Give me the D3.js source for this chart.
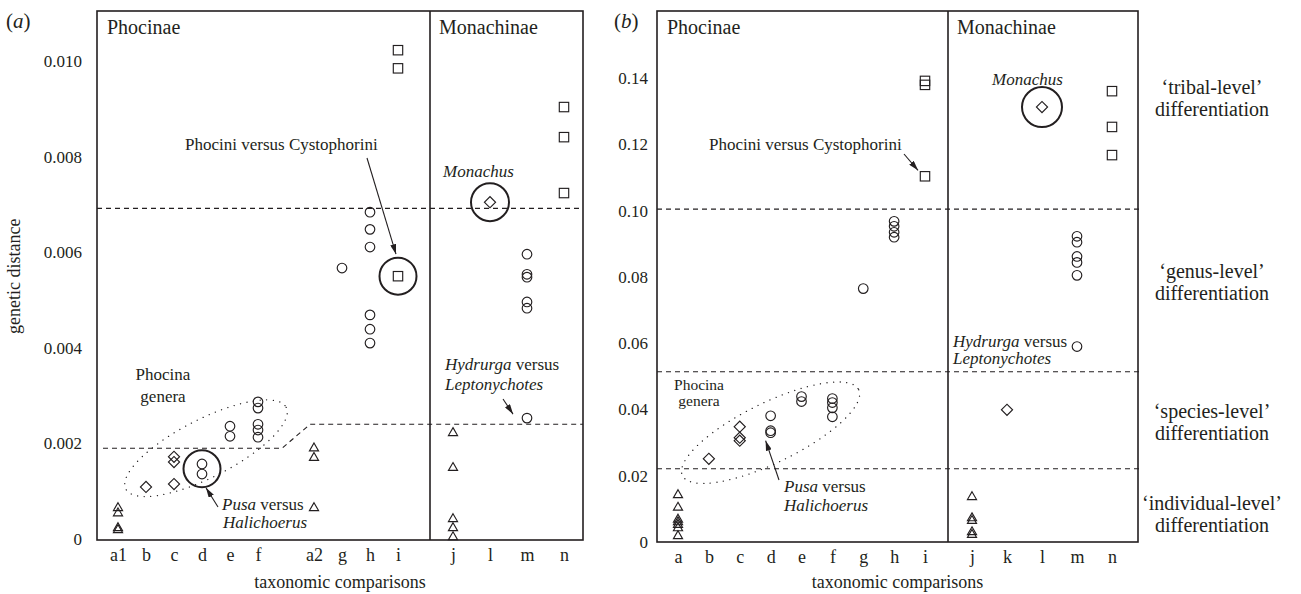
<!DOCTYPE html>
<html>
<head>
<meta charset="utf-8">
<script src="https://cdn.jsdelivr.net/npm/d3@7"></script>
<style>
  body { margin: 0; background: #fff; }
  svg, svg text { font-family: "Liberation Serif", "DejaVu Serif", "Times New Roman", serif; }
</style>
</head>
<body>
<svg width="1301" height="594"></svg>
<script>
// ---- panel (a) data ----
var catsAPhoc = ["a1", "b", "c", "d", "e", "f", "", "a2", "g", "h", "i"];
var catsAMon = ["j", "l", "m", "n"];
var ticksA = [0, 0.002, 0.004, 0.006, 0.008, 0.010];

var trianglesA = [["a1", 0.00065], ["a1", 0.00054], ["a1", 0.00023], ["a1", 0.00019],
  ["a2", 0.0019], ["a2", 0.0017], ["a2", 0.00065],
  ["j", 0.00222], ["j", 0.00149], ["j", 0.00042], ["j", 0.00023], ["j", 0.00004]];
var diamondsA = [["b", 0.00109], ["c", 0.00172], ["c", 0.00161], ["c", 0.00115], ["l", 0.00705]];
var circlesA = [["d", 0.00157], ["d", 0.00136], ["e", 0.00236], ["e", 0.00215],
  ["f", 0.00287], ["f", 0.00274], ["f", 0.0024], ["f", 0.00228], ["f", 0.00213],
  ["g", 0.00567], ["h", 0.00684], ["h", 0.00648], ["h", 0.00611], ["h", 0.00469], ["h", 0.00439], ["h", 0.0041],
  ["m", 0.00596], ["m", 0.00554], ["m", 0.00548], ["m", 0.00496], ["m", 0.00483], ["m", 0.00253]];
var squaresA = [["i", 0.01023], ["i", 0.00985], ["i", 0.0055], ["n", 0.00904], ["n", 0.00841], ["n", 0.00724]];
var cutoffA = 0.00692;          // upper dashed line
var stepA = [0.0019, 0.0024];   // lower stepped dashed line (left, right of a2)

// ---- panel (b) data ----
var catsBPhoc = ["a", "b", "c", "d", "e", "f", "g", "h", "i"];
var catsBMon = ["j", "k", "l", "m", "n"];
var ticksB = [0, 0.02, 0.04, 0.06, 0.08, 0.10, 0.12, 0.14];

var trianglesB = [["a", 0.0142], ["a", 0.0104], ["a", 0.0068], ["a", 0.006], ["a", 0.0052], ["a", 0.0042], ["a", 0.0018],
  ["j", 0.0136], ["j", 0.0072], ["j", 0.0064], ["j", 0.003], ["j", 0.0022]];
var diamondsB = [["b", 0.0251], ["c", 0.0348], ["c", 0.0315], ["c", 0.0306], ["k", 0.0399], ["l", 0.1313]];
var circlesB = [["d", 0.0381], ["d", 0.0336], ["d", 0.033], ["e", 0.0439], ["e", 0.0424],
  ["f", 0.0433], ["f", 0.0421], ["f", 0.0405], ["f", 0.0378], ["g", 0.0765],
  ["h", 0.0968], ["h", 0.0953], ["h", 0.0935], ["h", 0.092],
  ["m", 0.0923], ["m", 0.0905], ["m", 0.0862], ["m", 0.0844], ["m", 0.0805], ["m", 0.059]];
var squaresB = [["i", 0.1392], ["i", 0.138], ["i", 0.1104], ["n", 0.1361], ["n", 0.1253], ["n", 0.1168]];
var cutoffsB = [0.1005, 0.0514, 0.0221];
var levelLabels = [["\u2018tribal-level\u2019", 0.134], ["\u2018genus-level\u2019", 0.0785],
  ["\u2018species-level\u2019", 0.0362], ["\u2018individual-level\u2019", 0.0085]];

var serif = "'Liberation Serif', 'DejaVu Serif', 'Times New Roman', serif";
var svg = d3.select("svg").attr("font-family", serif);
var ink = "#231f20";

svg.append("defs").append("marker")
    .attr("id", "arrow")
    .attr("viewBox", "0 0 10 6")
    .attr("refX", 10).attr("refY", 3)
    .attr("markerWidth", 10).attr("markerHeight", 6)
    .attr("markerUnits", "userSpaceOnUse")
    .attr("orient", "auto")
  .append("path")
    .attr("d", "M0,0L10,3L0,6Z")
    .attr("fill", ink);

function drawPanel(p) {
    var g = svg.append("g").attr("fill", ink);
    var xOf = function(c) { return p.xPhoc.domain().indexOf(c) >= 0 ? p.xPhoc(c) : p.xMon(c); };
    var y = p.y;

    // y axis ticks (box edge drawn separately)
    var yAxis = g.append("g")
        .attr("transform", "translate(" + p.left + ",0)")
        .call(d3.axisLeft(y).tickValues(p.ticks).tickSize(0).tickPadding(p.tickPad)
            .tickFormat(d => d === 0 ? "0" : p.fmt(d)));
    yAxis.attr("font-family", serif).attr("font-size", 17);
    yAxis.select(".domain").remove();
    yAxis.selectAll("text").attr("fill", ink);

    [p.xPhoc, p.xMon].forEach(function(sc) {
        var xa = g.append("g")
            .attr("transform", "translate(0," + p.bottom + ")")
            .call(d3.axisBottom(sc).tickValues(sc.domain().filter(d => d)).tickSize(0).tickPadding(8));
        xa.attr("font-family", serif).attr("font-size", 18);
        xa.select(".domain").remove();
        xa.selectAll("text").attr("fill", ink);
    });

    // frame + divider
    g.append("rect")
        .attr("x", p.left).attr("y", p.top)
        .attr("width", p.right - p.left).attr("height", p.bottom - p.top)
        .attr("fill", "none").attr("stroke", ink).attr("stroke-width", 1.6);
    g.append("line")
        .attr("x1", p.divider).attr("x2", p.divider)
        .attr("y1", p.top).attr("y2", p.bottom)
        .attr("stroke", ink).attr("stroke-width", 1.6);

    // dashed lines
    g.append("g").selectAll("path")
        .data(p.dashed)
        .join("path")
        .attr("d", d => d3.line()(d))
        .attr("fill", "none").attr("stroke", ink).attr("stroke-width", 1.1)
        .attr("stroke-dasharray", "5,4");

    // dotted ellipse
    g.append("ellipse")
        .attr("transform", "translate(" + p.ell.cx + "," + p.ell.cy + ") rotate(" + p.ell.rot + ")")
        .attr("rx", p.ell.rx).attr("ry", p.ell.ry)
        .attr("fill", "none").attr("stroke", ink).attr("stroke-width", 1.3)
        .attr("stroke-dasharray", "0.1,6.5").attr("stroke-linecap", "round");

    // big highlight circles
    g.append("g").selectAll("circle")
        .data(p.rings)
        .join("circle")
        .attr("cx", d => xOf(d[0]) + (d[2] || 0)).attr("cy", d => y(d[1]))
        .attr("r", d => d[3] || 18.5)
        .attr("fill", "none").attr("stroke", ink).attr("stroke-width", 2);

    var markStyle = function(s) {
        s.attr("fill", "none").attr("stroke", ink).attr("stroke-width", 1.15);
    };
    g.append("g").selectAll("circle")
        .data(p.circles).join("circle")
        .attr("cx", d => xOf(d[0])).attr("cy", d => y(d[1])).attr("r", 4.8)
        .call(markStyle);
    g.append("g").selectAll("rect")
        .data(p.squares).join("rect")
        .attr("x", d => xOf(d[0]) - 4.7).attr("y", d => y(d[1]) - 4.7)
        .attr("width", 9.4).attr("height", 9.4)
        .call(markStyle);
    g.append("g").selectAll("path")
        .data(p.diamonds).join("path")
        .attr("d", d3.symbol(d3.symbolSquare, 62))
        .attr("transform", d => "translate(" + xOf(d[0]) + "," + y(d[1]) + ") rotate(45)")
        .call(markStyle);
    g.append("g").selectAll("path")
        .data(p.triangles).join("path")
        .attr("d", d3.symbol(d3.symbolTriangle, 36))
        .attr("transform", d => "translate(" + xOf(d[0]) + "," + y(d[1]) + ")")
        .call(markStyle);

    // subfamily titles
    g.append("text").attr("x", p.left + 10).attr("y", 34).attr("font-size", 20).text("Phocinae");
    g.append("text").attr("x", p.divider + 9).attr("y", 34).attr("font-size", 20).text("Monachinae");
    g.append("text").attr("x", p.labelX).attr("y", 28).attr("font-size", 21)
        .html("(<tspan font-style='italic'>" + p.letter + "</tspan>)");

    // annotations
    p.notes.forEach(function(n) {
        var t = g.append("text").attr("x", n.x).attr("y", n.y)
            .attr("font-size", n.size || 17).attr("text-anchor", n.anchor || "start");
        n.parts.forEach(function(pt) {
            t.append("tspan").attr("font-style", pt[1] ? "italic" : null).text(pt[0]);
        });
    });
    g.append("g").selectAll("line")
        .data(p.arrows).join("line")
        .attr("x1", d => d[0]).attr("y1", d => d[1]).attr("x2", d => d[2]).attr("y2", d => d[3])
        .attr("stroke", ink).attr("stroke-width", 1.1).attr("marker-end", "url(#arrow)");

    g.append("text")
        .attr("x", (p.left + p.right) / 2).attr("y", 588)
        .attr("text-anchor", "middle").attr("font-size", 18)
        .text("taxonomic comparisons");

    return { x: xOf, y: y };
}

// ---- panel (a) ----
var xAPhoc = d3.scalePoint().domain(catsAPhoc).range([118, 398]);
var xAMon = d3.scalePoint().domain(catsAMon).range([453, 564]);
var yA = d3.scaleLinear().domain([0, 0.01105]).range([539, 11]);
var fA = xAPhoc("f"), a2 = xAPhoc("a2");

drawPanel({
    left: 97, right: 583, divider: 430, top: 11, bottom: 540,
    xPhoc: xAPhoc, xMon: xAMon, y: yA,
    ticks: ticksA, fmt: d3.format(".3f"), tickPad: 15,
    letter: "a", labelX: 6,
    circles: circlesA, squares: squaresA, diamonds: diamondsA, triangles: trianglesA,
    dashed: [
        [[97, yA(cutoffA)], [583, yA(cutoffA)]],
        [[103, yA(stepA[0])], [fA + (a2 - fA) * 0.43, yA(stepA[0])], [a2 - 4, yA(stepA[1])], [583, yA(stepA[1])]]
    ],
    ell: { cx: xAPhoc("d") + 4, cy: yA(0.0019), rx: 90, ry: 29, rot: -27 },
    rings: [["d", 0.00147, 0, 18.5], ["i", 0.0055, 0, 18.5], ["l", 0.00705, 0, 19]],
    notes: [
        { x: 185, y: 150, parts: [["Phocini versus Cystophorini"]] },
        { x: 443, y: 177, parts: [["Monachus", true]] },
        { x: 163, y: 380, anchor: "middle", parts: [["Phocina"]] },
        { x: 163, y: 402, anchor: "middle", parts: [["genera"]] },
        { x: 222, y: 510, parts: [["Pusa", true], [" versus"]] },
        { x: 223, y: 528, parts: [["Halichoerus", true]] },
        { x: 445, y: 370, parts: [["Hydrurga", true], [" versus"]] },
        { x: 445, y: 390, parts: [["Leptonychotes", true]] }
    ],
    arrows: [
        [367, 158, xAPhoc("i") - 2, yA(0.0055) - 22],
        [218, 507, xAPhoc("d") + 4, yA(0.00147) + 19],
        [503, 399, xAMon("m") - 14, yA(0.00253) - 4]
    ]
});

svg.append("text")
    .attr("transform", "translate(20," + yA(0.0055) + ") rotate(-90)")
    .attr("text-anchor", "middle").attr("font-size", 18).attr("fill", ink)
    .text("genetic distance");

// ---- panel (b) ----
var xBPhoc = d3.scalePoint().domain(catsBPhoc).range([678, 925]);
var xBMon = d3.scalePoint().domain(catsBMon).range([972, 1112]);
var yB = d3.scaleLinear().domain([0, 0.1603]).range([542, 11]);

drawPanel({
    left: 657, right: 1138, divider: 948, top: 11, bottom: 542,
    xPhoc: xBPhoc, xMon: xBMon, y: yB,
    ticks: ticksB, fmt: d3.format(".2f"), tickPad: 9,
    letter: "b", labelX: 614,
    circles: circlesB, squares: squaresB, diamonds: diamondsB, triangles: trianglesB,
    dashed: cutoffsB.map(v => [[657, yB(v)], [1140, yB(v)]]),
    ell: { cx: xBPhoc("d"), cy: yB(0.033), rx: 98, ry: 30, rot: -26 },
    rings: [["l", 0.1313, 0, 20]],
    notes: [
        { x: 709, y: 150, parts: [["Phocini versus Cystophorini"]] },
        { x: 992, y: 85, parts: [["Monachus", true]] },
        { x: 699, y: 390, anchor: "middle", size: 15.5, parts: [["Phocina"]] },
        { x: 699, y: 406, anchor: "middle", size: 15.5, parts: [["genera"]] },
        { x: 784, y: 492, parts: [["Pusa", true], [" versus"]] },
        { x: 784, y: 511, parts: [["Halichoerus", true]] },
        { x: 953, y: 347, parts: [["Hydrurga", true], [" versus"]] },
        { x: 953, y: 364, parts: [["Leptonychotes", true]] }
    ],
    arrows: [
        [904, 154, xBPhoc("i") - 7, yB(0.1104) - 6],
        [779, 480, xBPhoc("d") - 5, yB(0.033) + 8]
    ]
});

// right-hand level labels
var lvl = svg.append("g").attr("font-size", 20).attr("text-anchor", "middle").attr("fill", ink);
levelLabels.forEach(function(d) {
    lvl.append("text").attr("x", 1212).attr("y", yB(d[1]) - 4).text(d[0]);
    lvl.append("text").attr("x", 1212).attr("y", yB(d[1]) + 18).text("differentiation");
});
</script>
</body>
</html>
